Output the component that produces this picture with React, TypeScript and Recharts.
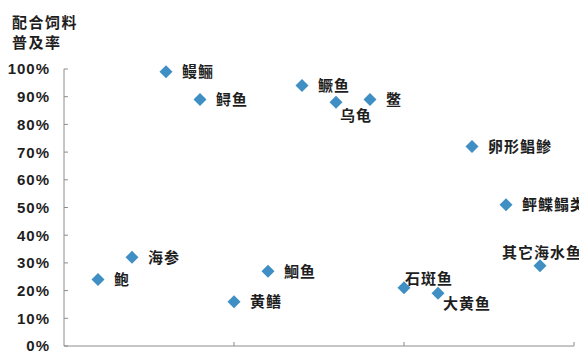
import React from 'react';
import { ScatterChart, Scatter, XAxis, YAxis } from 'recharts';

const species = ['鲍', '海参', '鳗鲡', '鲟鱼', '黄鳝', '鮰鱼', '鳜鱼', '乌龟', '鳖', '石斑鱼', '大黄鱼', '卵形鲳鲹', '鲆鲽鳎类', '其它海水鱼'];
const slots = [0.2, 0.4, 0.6, 0.8, 1.0, 1.2, 1.4, 1.6, 1.8, 2.0, 2.2, 2.4, 2.6, 2.8];
const penetration = [0.24, 0.32, 0.99, 0.89, 0.16, 0.27, 0.94, 0.88, 0.89, 0.21, 0.19, 0.72, 0.51, 0.29];
const yTicks = [0, 0.1, 0.2, 0.3, 0.4, 0.5, 0.6, 0.7, 0.8, 0.9, 1];
const xTicks = [0, 1, 2, 3];

// where each name sits relative to its marker (default: to the right)
const labelSide: Record<string, string> = {
  '乌龟': 'below',
  '石斑鱼': 'aboveRight',
  '大黄鱼': 'belowRight',
  '其它海水鱼': 'above',
};

const data = species.map((name, i) => ({ name, x: slots[i], y: penetration[i] }));

const FONT = "Arial, 'Liberation Sans', 'Noto Sans CJK SC', sans-serif";
const AXIS = '#8c8c8c';
const MARK = '#3f8fc4';
const INK = '#1e1e1e';

function Marker(props: any) {
  const { cx, cy, payload } = props;
  const r = 6.5;
  const side = labelSide[payload.name] || 'right';
  let tx = cx + 16;
  let ty = cy;
  let anchor: 'start' | 'middle' = 'start';
  if (side === 'below') { tx = cx + 4; ty = cy + 13; }
  if (side === 'aboveRight') { tx = cx + 1; ty = cy - 9; }
  if (side === 'belowRight') { tx = cx + 5; ty = cy + 10; }
  if (side === 'above') { tx = cx + 2; ty = cy - 13; anchor = 'middle'; }
  return (
    <g>
      <polygon
        points={`${cx},${cy - r} ${cx + r},${cy} ${cx},${cy + r} ${cx - r},${cy}`}
        fill={MARK}
      />
      <text
        x={tx}
        y={ty}
        dy="0.36em"
        textAnchor={anchor}
        fontSize={15}
        letterSpacing={1}
        fontWeight="bold"
        fill={INK}
        fontFamily={FONT}
      >
        {payload.name}
      </text>
    </g>
  );
}

function YTick(props: any) {
  const { x, y, payload } = props;
  return (
    <g>
      <line x1={x} x2={x + 4} y1={y} y2={y} stroke={AXIS} />
      <text
        x={x - 14}
        y={y}
        dy="0.36em"
        textAnchor="end"
        fontSize={15}
        letterSpacing={1}
        fontWeight="bold"
        fill={INK}
        fontFamily={FONT}
      >
        {Math.round(payload.value * 100)}%
      </text>
    </g>
  );
}

function XTick(props: any) {
  const { x, y, payload } = props;
  if (payload.value === 0) return <g />;
  return <line x1={x} x2={x} y1={y} y2={y - 4} stroke={AXIS} />;
}

export default function App() {
  return (
    <div style={{ position: 'absolute', left: 0, top: 0, width: 579, height: 352, background: '#fff' }}>
      <div
        style={{
          position: 'absolute',
          left: 12,
          top: 13,
          fontFamily: FONT,
          fontWeight: 'bold',
          fontSize: 15,
          letterSpacing: 1.5,
          lineHeight: '20px',
          color: INK,
        }}
      >
        配合饲料
        <br />
        普及率
      </div>
      <ScatterChart width={579} height={352} margin={{ top: 69, right: 5, bottom: 0, left: 0 }}>
        <XAxis
          type="number"
          dataKey="x"
          domain={[0, 3]}
          ticks={xTicks}
          height={6}
          tickSize={0}
          tickMargin={0}
          tick={<XTick />}
          axisLine={{ stroke: AXIS }}
          tickLine={false}
        />
        <YAxis
          type="number"
          dataKey="y"
          domain={[0, 1]}
          ticks={yTicks}
          width={64}
          tickSize={0}
          tickMargin={0}
          tick={<YTick />}
          axisLine={{ stroke: AXIS }}
          tickLine={false}
          interval={0}
        />
        <Scatter data={data} shape={<Marker />} isAnimationActive={false} />
      </ScatterChart>
    </div>
  );
}
